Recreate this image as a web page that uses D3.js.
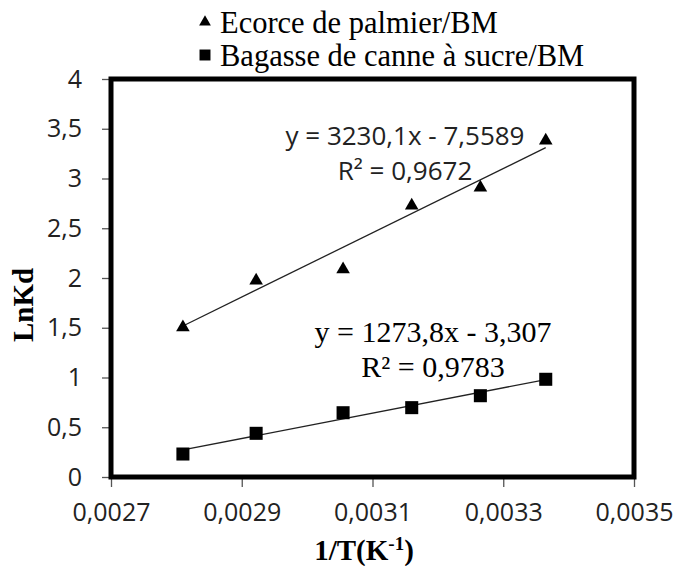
<!DOCTYPE html>
<html>
<head>
<meta charset="utf-8">
<script src="https://cdn.jsdelivr.net/npm/d3@7"></script>
<style>
  body { margin: 0; background: #fff; }
  svg { display: block; }
  .tick text { font-family: 'Open Sans', sans-serif; font-size: 25px; fill: #222; }
</style>
</head>
<body>
<div id="chart"></div>
<script>
// data
var invT = [0.00281, 0.002922, 0.003055, 0.00316, 0.003265, 0.003365];
var palmier = [1.505, 1.973, 2.087, 2.727, 2.908, 3.38];
var bagasse = [0.231, 0.439, 0.646, 0.697, 0.817, 0.982];

// trend lines (slope, intercept) and their labels
var slopes = [3230.1, 1273.8];
var intercepts = [-7.5589, -3.307];
var eqLabels = ['y = 3230,1x - 7,5589', 'y = 1273,8x - 3,307'];
var r2Labels = ['R\u00b2 = 0,9672', 'R\u00b2 = 0,9783'];
var seriesNames = ['Ecorce de palmier/BM', 'Bagasse de canne \u00e0 sucre/BM'];

var xTicks = [0.0027, 0.0029, 0.0031, 0.0033, 0.0035];
var yTicks = [0, 0.5, 1, 1.5, 2, 2.5, 3, 3.5, 4];

// svg container
var width = 675, height = 566;
var margin = { top: 79, right: 41, bottom: 89, left: 111 };
var chartWidth = width - margin.left - margin.right;
var chartHeight = height - margin.top - margin.bottom;

var svg = d3.select('#chart').append('svg')
    .attr('width', width)
    .attr('height', height);

var chartGroup = svg.append('g')
    .attr('transform', `translate(${margin.left}, ${margin.top})`);

var fr = d3.formatLocale({ decimal: ',', thousands: ' ', grouping: [3], currency: ['', ''] });

var xScale = d3.scaleLinear().domain([0.0027, 0.0035]).range([0, chartWidth]);
var yScale = d3.scaleLinear().domain([0, 4]).range([chartHeight, 0]);

// axes
var xAxis = d3.axisBottom(xScale).tickValues(xTicks).tickSize(10).tickPadding(16)
    .tickFormat(d => fr.format('.4f')(d));
var yAxis = d3.axisLeft(yScale).tickValues(yTicks).tickSize(9).tickPadding(20)
    .tickFormat(d => fr.format('')(d));

var gx = chartGroup.append('g')
    .attr('transform', `translate(0, ${chartHeight})`)
    .call(xAxis);
var gy = chartGroup.append('g').call(yAxis);
[gx, gy].forEach(function (g) {
    g.select('.domain').remove();
    g.selectAll('.tick line').attr('stroke', '#555').attr('stroke-width', 1.3);
});

// thick frame
chartGroup.append('rect')
    .attr('width', chartWidth)
    .attr('height', chartHeight)
    .attr('fill', 'none')
    .attr('stroke', '#000')
    .attr('stroke-width', 5);

// trend lines
var xMin = d3.min(invT), xMax = d3.max(invT);
slopes.forEach(function (s, i) {
    chartGroup.append('line')
        .attr('x1', xScale(xMin))
        .attr('y1', yScale(s * xMin + intercepts[i]))
        .attr('x2', xScale(xMax))
        .attr('y2', yScale(s * xMax + intercepts[i]))
        .attr('stroke', '#222')
        .attr('stroke-width', 1.3);
});

var triangle = d3.symbol().type(d3.symbolTriangle).size(80);
var square = d3.symbol().type(d3.symbolSquare).size(170);

// markers
chartGroup.selectAll('.tri')
    .data(palmier)
    .enter()
    .append('path')
    .attr('d', triangle)
    .attr('transform', (d, i) => `translate(${xScale(invT[i])}, ${yScale(d)})`)
    .attr('fill', '#000');

chartGroup.selectAll('.sq')
    .data(bagasse)
    .enter()
    .append('path')
    .attr('d', square)
    .attr('transform', (d, i) => `translate(${xScale(invT[i])}, ${yScale(d)})`)
    .attr('fill', '#000');

// equation labels
chartGroup.append('text')
    .attr('x', 294).attr('y', 66)
    .attr('text-anchor', 'middle')
    .style('font-family', 'Open Sans, sans-serif').style('font-size', '26px').style('fill', '#222')
    .text(eqLabels[0]);
chartGroup.append('text')
    .attr('x', 294).attr('y', 101)
    .attr('text-anchor', 'middle')
    .style('font-family', 'Open Sans, sans-serif').style('font-size', '26px').style('fill', '#222')
    .text(r2Labels[0]);
chartGroup.append('text')
    .attr('x', 322).attr('y', 263)
    .attr('text-anchor', 'middle')
    .style('font-family', 'Liberation Serif, serif').style('font-size', '30px')
    .text(eqLabels[1]);
chartGroup.append('text')
    .attr('x', 322).attr('y', 298)
    .attr('text-anchor', 'middle')
    .style('font-family', 'Liberation Serif, serif').style('font-size', '30px')
    .text(r2Labels[1]);

// axis titles
svg.append('text')
    .attr('transform', 'translate(33, 305) rotate(-90)')
    .attr('text-anchor', 'middle')
    .style('font-family', 'Liberation Serif, serif').style('font-size', '29px').style('font-weight', 'bold')
    .text('LnKd');

var xt = svg.append('text')
    .attr('x', 364).attr('y', 560)
    .attr('text-anchor', 'middle')
    .style('font-family', 'Liberation Serif, serif').style('font-size', '29px').style('font-weight', 'bold');
xt.append('tspan').text('1/T(K');
xt.append('tspan').attr('dy', -10).style('font-size', '19px').text('-1');
xt.append('tspan').attr('dy', 10).text(')');

// legend
var legend = svg.append('g');
[triangle, square].forEach(function (sym, i) {
    legend.append('path')
        .attr('d', i === 0 ? d3.symbol().type(d3.symbolTriangle).size(60) : d3.symbol().type(d3.symbolSquare).size(120))
        .attr('transform', `translate(205, ${i === 0 ? 22 : 55})`)
        .attr('fill', '#000');
    legend.append('text')
        .attr('x', 220).attr('y', i === 0 ? 33 : 66)
        .style('font-family', 'Liberation Serif, serif').style('font-size', '30.5px')
        .text(seriesNames[i]);
});
</script>
</body>
</html>
